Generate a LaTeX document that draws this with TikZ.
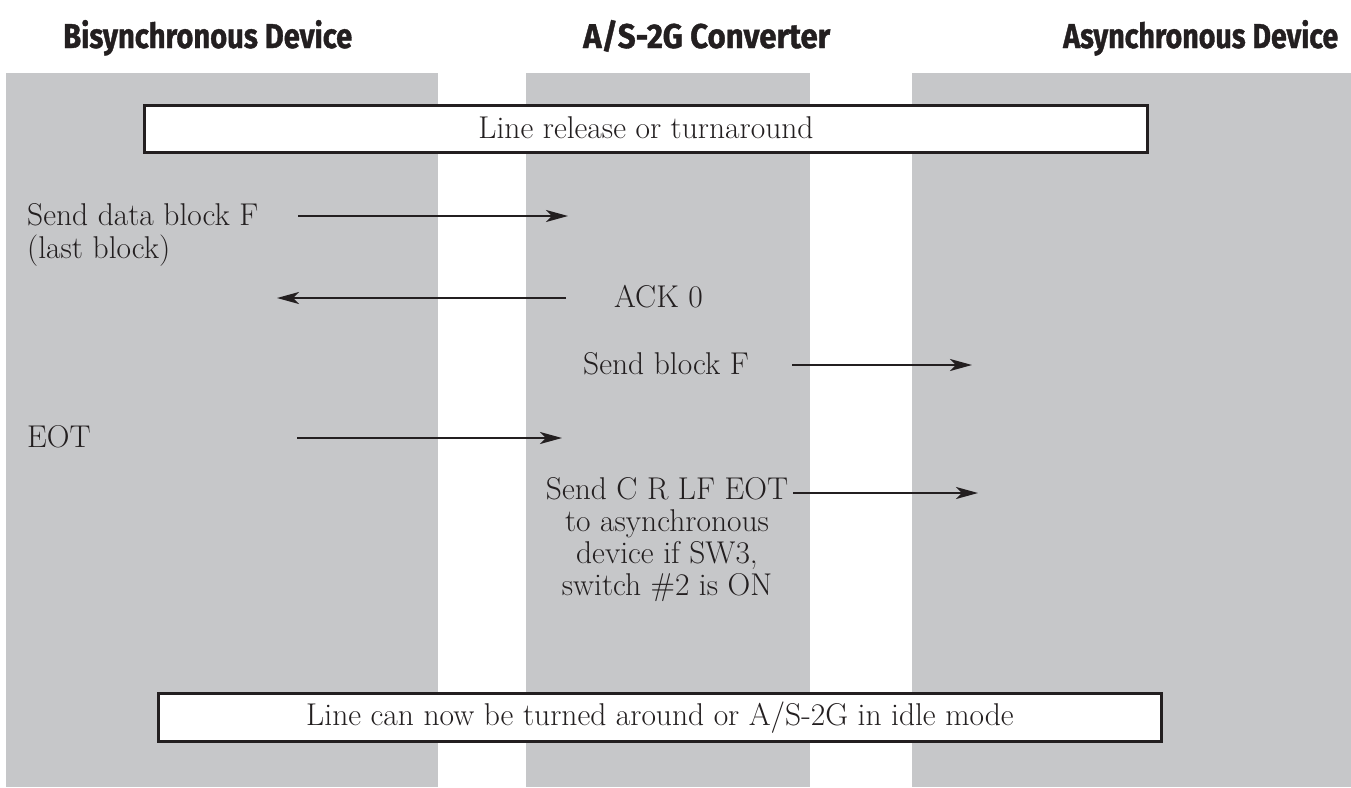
\documentclass[tikz,border=0pt]{standalone}
\usepackage{fontspec}
\usepackage{graphicx}
\usetikzlibrary{arrows.meta}
\newfontfamily\headfont{Fira Sans}[FakeBold=1.2]
\definecolor{lane}{HTML}{C6C7C9}
\definecolor{ink}{HTML}{231F20}
\newcommand\hdtext[2]{\resizebox{#1}{28pt}{\headfont\bfseries #2}}
\tikzset{
  body/.style={font=\fontsize{31.5}{33}\selectfont, text=ink, inner sep=0pt},
  heading/.style={text=ink, inner sep=0pt, anchor=base west},
  framebox/.style={draw=ink, line width=3pt, fill=white, inner sep=0pt},
  msg/.style={draw=ink, line width=2pt, -{Stealth[length=22pt,width=12pt,inset=6pt]}},
}
\begin{document}
\begin{tikzpicture}[x=1pt,y=-1pt]
\useasboundingbox (0,0) rectangle (1351,787);
% lanes
\fill[lane] (6,73) rectangle (438,787);
\fill[lane] (526,73) rectangle (810,787);
\fill[lane] (912,73) rectangle (1351,787);
% headings
\node[heading] (h1) at (63,48) {\hdtext{289pt}{Bisynchronous Device}};
\node[heading] (h2) at (583,48) {\hdtext{247pt}{A/S-2G Converter}};
\node[heading] (h3) at (1063,48) {\hdtext{275pt}{Asynchronous Device}};
% boxes
\node[framebox, minimum width=1003pt, minimum height=47pt] (top) at (646,129) {};
\node[body, anchor=base] (toptext) at (646,138) {Line release or turnaround};
\node[framebox, minimum width=1003pt, minimum height=48pt] (bot) at (660,717.5) {};
\node[body, anchor=base] (bottext) at (660,725) {Line can now be turned around or A/S-2G in idle mode};
% messages
\node[body, anchor=base west, align=left] (sdb) at (27,258) {Send data block F\\(last block)};
\coordinate (a1s) at (298,216);
\coordinate (a1e) at (568,216);
\draw[msg] (a1s) -- (a1e);
\node[body, anchor=base west] (ack) at (614,307) {ACK 0};
\coordinate (a2s) at (566,298);
\coordinate (a2e) at (277,298);
\draw[msg] (a2s) -- (a2e);
\node[body, anchor=base west] (sbf) at (583,374) {Send block F};
\coordinate (a3s) at (792,365);
\coordinate (a3e) at (972,365);
\draw[msg] (a3s) -- (a3e);
\node[body, anchor=base west] (eot) at (27,447) {EOT};
\coordinate (a4s) at (297,438);
\coordinate (a4e) at (562,438);
\draw[msg] (a4s) -- (a4e);
\node[body, anchor=base, align=center, font=\fontsize{31.5}{32}\selectfont] (crlf) at (667,595) {Send C R LF EOT\\to asynchronous\\device if SW3,\\switch \#2 is ON};
\coordinate (a5s) at (793,493);
\coordinate (a5e) at (978,493);
\draw[msg] (a5s) -- (a5e);
\end{tikzpicture}
\end{document}
